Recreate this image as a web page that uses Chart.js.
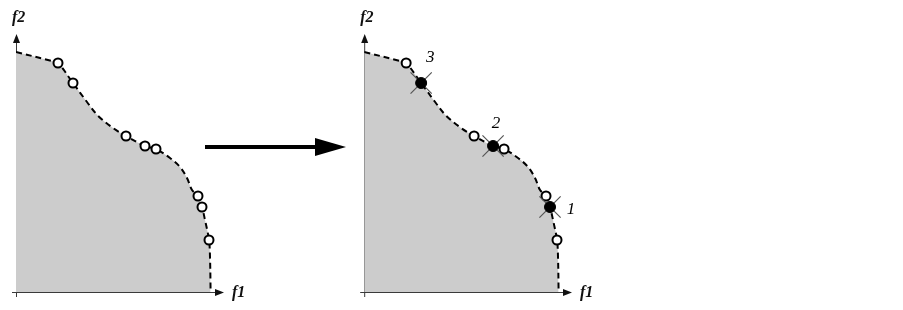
<!DOCTYPE html>
<html>
<head>
<meta charset="utf-8">
<script src="https://cdn.jsdelivr.net/npm/chart.js@4/dist/chart.umd.min.js"></script>
<style>
  html, body { margin: 0; padding: 0; background: #ffffff; }
  #wrap { position: relative; width: 903px; height: 310px; overflow: hidden; background: #fff; }
  canvas { position: absolute; top: 0; }
  #c1 { left: 0; }
  #c2 { left: 348px; }
</style>
</head>
<body>
<div id="wrap">
  <canvas id="c1" width="348" height="310"></canvas>
  <canvas id="c2" width="555" height="310"></canvas>
</div>
<script>
// ---- data (f1, f2 in abstract objective units) ----
const frontCurveF1 = [0, 18, 21, 28.5, 35.5, 41, 48.5, 55, 64.5, 70, 77, 82, 85.5, 88, 91, 93, 94.5, 96.5, 97, 97.3];
const frontCurveF2 = [96, 92.4, 91.6, 83.6, 76, 70.5, 65.6, 62.4, 58.4, 57.2, 53.6, 50, 45.6, 40.8, 38.4, 34, 28.8, 20.8, 14, 0];
const solutionsF1 = [21, 28.5, 55, 64.5, 70, 91, 93, 96.5];
const solutionsF2 = [91.6, 83.6, 62.4, 58.4, 57.2, 38.4, 34, 20.8];
const selectedIdx = [1, 3, 6];
const selectedLabels = ['3', '2', '1'];
const axisLabels = ['f1', 'f2'];
const F1_MAX = 104, F2_MAX = 103.2;

const toPts = (xs, ys) => xs.map((x, i) => ({ x: x, y: ys[i] }));
const curvePts = toPts(frontCurveF1, frontCurveF2);
const allPts = toPts(solutionsF1, solutionsF2);
const selPts = selectedIdx.map(i => allPts[i]);
const whitePtsRight = allPts.filter((p, i) => selectedIdx.indexOf(i) < 0);

const SERIF = '"Liberation Serif", "DejaVu Serif", serif';

function drawArrowHead(ctx, x, y, dir, len, half) {
  ctx.beginPath();
  if (dir === 'up') {
    ctx.moveTo(x, y); ctx.lineTo(x - half, y + len); ctx.lineTo(x + half, y + len);
  } else {
    ctx.moveTo(x, y); ctx.lineTo(x - len, y - half); ctx.lineTo(x - len, y + half);
  }
  ctx.closePath(); ctx.fill();
}

const axesPlugin = {
  id: 'axesPlugin',
  beforeDatasetsDraw(chart) {
    const ctx = chart.ctx, xs = chart.scales.x, ys = chart.scales.y;
    const x0 = xs.getPixelForValue(0), y0 = ys.getPixelForValue(0);
    const xEnd = xs.getPixelForValue(F1_MAX), yEnd = ys.getPixelForValue(F2_MAX);
    ctx.save();
    ctx.strokeStyle = '#3a3a3a'; ctx.lineWidth = 1;
    ctx.beginPath();
    ctx.moveTo(x0 + 0.5, y0 + 5); ctx.lineTo(x0 + 0.5, yEnd + 6);
    ctx.moveTo(x0 - 4, y0 + 0.5); ctx.lineTo(xEnd - 6, y0 + 0.5);
    ctx.stroke();
    ctx.restore();
  },
  afterDatasetsDraw(chart) {
    const ctx = chart.ctx, xs = chart.scales.x, ys = chart.scales.y;
    const x0 = xs.getPixelForValue(0), y0 = ys.getPixelForValue(0);
    const xEnd = xs.getPixelForValue(F1_MAX), yEnd = ys.getPixelForValue(F2_MAX);
    ctx.save();
    ctx.fillStyle = '#111';
    drawArrowHead(ctx, x0 + 0.5, yEnd, 'up', 9, 3.5);
    drawArrowHead(ctx, xEnd, y0 + 0.5, 'right', 9, 3.5);
    ctx.font = 'italic bold 16px ' + SERIF;
    ctx.textBaseline = 'middle';
    ctx.textAlign = 'left';
    ctx.fillText(axisLabels[0], xEnd + 8, y0 + 1);
    ctx.fillText(axisLabels[1], x0 - 4, yEnd - 16);
    ctx.restore();
  }
};

const bigArrowPlugin = {
  id: 'bigArrow',
  afterDraw(chart) {
    const ctx = chart.ctx;
    ctx.save();
    ctx.fillStyle = '#000'; ctx.strokeStyle = '#000';
    ctx.lineWidth = 4;
    ctx.beginPath(); ctx.moveTo(205, 147); ctx.lineTo(320, 147); ctx.stroke();
    ctx.beginPath(); ctx.moveTo(346, 147); ctx.lineTo(315, 138); ctx.lineTo(315, 156); ctx.closePath(); ctx.fill();
    ctx.restore();
  }
};

const labelPlugin = {
  id: 'selLabels',
  afterDatasetsDraw(chart) {
    const ctx = chart.ctx, xs = chart.scales.x, ys = chart.scales.y;
    const offsets = [[9, -25], [3, -22], [21, 3]];
    ctx.save();
    ctx.fillStyle = '#000';
    ctx.font = 'italic 17px ' + SERIF;
    ctx.textAlign = 'center'; ctx.textBaseline = 'middle';
    selPts.forEach((p, i) => {
      ctx.fillText(selectedLabels[i], xs.getPixelForValue(p.x) + offsets[i][0], ys.getPixelForValue(p.y) + offsets[i][1]);
    });
    ctx.restore();
  }
};

function curveDataset() {
  return {
    type: 'line', data: curvePts, order: 10,
    borderColor: '#000', borderWidth: 2, borderDash: [6, 4],
    backgroundColor: '#cccccc', fill: 'origin',
    pointRadius: 0, tension: 0.35
  };
}
function whiteDataset(pts) {
  return {
    type: 'scatter', data: pts, order: 3,
    pointStyle: 'circle', pointRadius: 4.5, borderWidth: 2,
    borderColor: '#000', backgroundColor: '#fff'
  };
}

function baseOptions(canvasWidth) {
  return {
    responsive: false, animation: false, devicePixelRatio: 1,
    layout: { padding: { left: 16, top: 34, right: canvasWidth - 224, bottom: 18 } },
    plugins: { legend: { display: false }, tooltip: { enabled: false } },
    scales: {
      x: { type: 'linear', min: 0, max: F1_MAX, display: false },
      y: { type: 'linear', min: 0, max: F2_MAX, display: false }
    }
  };
}

new Chart(document.getElementById('c1'), {
  type: 'scatter',
  data: { datasets: [curveDataset(), whiteDataset(allPts)] },
  options: baseOptions(348),
  plugins: [axesPlugin, bigArrowPlugin]
});

new Chart(document.getElementById('c2'), {
  type: 'scatter',
  data: { datasets: [
    curveDataset(),
    whiteDataset(whitePtsRight),
    { type: 'scatter', data: selPts, order: 2, pointStyle: 'crossRot', pointRadius: 15,
      borderColor: '#555', borderWidth: 1.2, backgroundColor: '#555' },
    { type: 'scatter', data: selPts, order: 1, pointStyle: 'circle', pointRadius: 5.5,
      borderColor: '#000', borderWidth: 1, backgroundColor: '#000' }
  ] },
  options: baseOptions(555),
  plugins: [axesPlugin, labelPlugin]
});
</script>
</body>
</html>
